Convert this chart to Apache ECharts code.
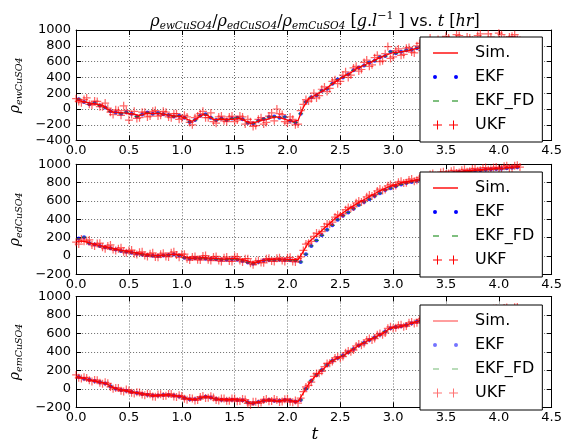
<!DOCTYPE html>
<html lang="en">
<head>
    <meta charset="UTF-8">
    <title>rho CuSO4 estimates</title>
    <style>
        html, body { margin: 0; padding: 0; background: #fff; }
        #main { width: 565px; height: 446px; }
    </style>
</head>
<body>
    <div id="main"></div>
    <script src="https://cdn.jsdelivr.net/npm/echarts@6/dist/echarts.min.js"></script>
    <script>
        // time grid [hr]
        var tGrid = [0.00, 0.05, 0.10, 0.15, 0.20, 0.25, 0.30, 0.35, 0.40, 0.45,
            0.50, 0.55, 0.60, 0.65, 0.70, 0.75, 0.80, 0.85, 0.90, 0.95,
            1.00, 1.05, 1.10, 1.15, 1.20, 1.25, 1.30, 1.35, 1.40, 1.45,
            1.50, 1.55, 1.60, 1.65, 1.70, 1.75, 1.80, 1.85, 1.90, 1.95,
            2.00, 2.05, 2.10, 2.15, 2.20, 2.25, 2.30, 2.35, 2.40, 2.45,
            2.50, 2.55, 2.60, 2.65, 2.70, 2.75, 2.80, 2.85, 2.90, 2.95,
            3.00, 3.05, 3.10, 3.15, 3.20, 3.25, 3.30, 3.35, 3.40, 3.45,
            3.50, 3.55, 3.60, 3.65, 3.70, 3.75, 3.80, 3.85, 3.90, 3.95,
            4.00, 4.05, 4.10, 4.15, 4.20];
        // in-between sample times
        var tMid = [0.025, 0.075, 0.125, 0.175, 0.225, 0.275, 0.325, 0.375, 0.425, 0.475,
            0.525, 0.575, 0.625, 0.675, 0.725, 0.775, 0.825, 0.875, 0.925, 0.975,
            1.025, 1.075, 1.125, 1.175, 1.225, 1.275, 1.325, 1.375, 1.425, 1.475,
            1.525, 1.575, 1.625, 1.675, 1.725, 1.775, 1.825, 1.875, 1.925, 1.975,
            2.025, 2.075, 2.125, 2.175, 2.225, 2.275, 2.325, 2.375, 2.425, 2.475,
            2.525, 2.575, 2.625, 2.675, 2.725, 2.775, 2.825, 2.875, 2.925, 2.975,
            3.025, 3.075, 3.125, 3.175, 3.225, 3.275, 3.325, 3.375, 3.425, 3.475,
            3.525, 3.575, 3.625, 3.675, 3.725, 3.775, 3.825, 3.875, 3.925, 3.975,
            4.025, 4.075, 4.125, 4.175];

        // rho_ewCuSO4
        var simEw = [115, 100, 85, 70, 60, 50, -5, -40, -42, -50,
            -55, -65, -85, -60, -55, -55, -58, -70, -82, -90,
            -98, -130, -155, -115, -70, -85, -135, -130, -130, -132,
            -128, -115, -150, -182, -165, -145, -135, -112, -100, -120,
            -140, -158, -145, 20, 130, 165, 205, 240, 295, 340,
            385, 425, 460, 510, 540, 570, 600, 635, 665, 690,
            715, 720, 730, 740, 760, 775, 790, 800, 810, 818,
            830, 840, 848, 855, 860, 866, 870, 875, 878, 882,
            886, 888, 890, 892, 894];
        var ekfEw = [125, 90, 60, 75, 45, 20, -30, -45, -60, -40,
            -60, -95, -70, -45, -60, -50, -65, -75, -95, -85,
            -110, -165, -140, -85, -65, -110, -140, -120, -140, -120,
            -110, -130, -175, -185, -150, -125, -100, -95, -110, -100,
            -150, -170, -60, 90, 150, 175, 230, 255, 320, 375,
            400, 440, 490, 525, 550, 590, 610, 655, 670, 725,
            705, 725, 745, 750, 770, 785, 795, 810, 812, 830,
            835, 845, 852, 855, 865, 866, 874, 876, 884, 882,
            890, 888, 894, 892];
        var ukfEw = [130, 80, 140, 50, 95, 30, 10, -70, -20, 40,
            -140, -30, -110, -40, -90, -20, -80, -40, -110, -60,
            -120, -100, -200, -90, -30, -110, -160, -100, -150, -100,
            -160, -90, -190, -160, -210, -110, -170, -50, 0, -70,
            -180, -130, -190, 60, 100, 200, 170, 280, 260, 370,
            350, 470, 430, 540, 500, 620, 560, 680, 610, 790,
            660, 760, 690, 780, 710, 830, 750, 900, 780, 860,
            920, 800, 940, 830, 910, 870, 930, 820, 950, 860,
            960, 880, 910, 940, 870];
        var ukfEwMid = [95, 120, 60, 100, 30, 75, -40, -10, -80, -20,
            -70, -120, -40, -100, -30, -90, -30, -100, -60, -130,
            -80, -170, -110, -60, -110, -50, -180, -90, -160, -90,
            -140, -100, -130, -220, -130, -190, -90, -150, -60, -160,
            -100, -200, -20, 120, 130, 140, 250, 220, 350, 320,
            430, 400, 520, 480, 590, 540, 650, 600, 700, 640,
            740, 680, 770, 720, 800, 740, 840, 770, 880, 800,
            900, 820, 930, 850, 900, 840, 950, 860, 910, 850,
            940, 870, 920, 880];

        // rho_edCuSO4
        var simEd = [160, 165, 150, 135, 120, 108, 95, 82, 68, 58,
            48, 38, 28, 20, 12, 6, 8, 12, 18, 20,
            8, -15, -25, -20, -18, -22, -25, -30, -35, -30,
            -25, -35, -45, -65, -75, -50, -42, -38, -35, -35,
            -38, -40, -40, 50, 150, 200, 250, 305, 355, 410,
            450, 490, 530, 565, 600, 630, 665, 695, 725, 750,
            770, 790, 805, 815, 825, 840, 860, 875, 885, 895,
            905, 910, 918, 922, 930, 935, 940, 945, 950, 952,
            958, 962, 968, 972, 975];
        var ekfEd = [190, 205, 140, 125, 110, 95, 85, 70, 55, 45,
            35, 25, 15, 8, 2, 0, 5, 10, 15, 5,
            -20, -30, -25, -28, -30, -32, -35, -40, -40, -35,
            -40, -55, -70, -85, -65, -50, -45, -45, -42, -45,
            -48, -50, -65, 20, 110, 170, 225, 285, 335, 395,
            440, 475, 515, 555, 590, 620, 655, 685, 720, 740,
            760, 780, 795, 808, 820, 838, 855, 872, 880, 892,
            900, 905, 915, 918, 925, 930, 935, 940, 945, 948,
            952, 958, 962, 968];
        var ukfEd = [150, 185, 165, 120, 135, 95, 110, 70, 80, 45,
            60, 25, 40, 5, 25, -10, 20, -5, 35, 10,
            20, -30, -10, -40, 0, -40, -10, -50, -20, -55,
            -5, -50, -30, -80, -60, -70, -30, -55, -25, -50,
            -20, -60, -30, 60, 140, 215, 245, 320, 345, 425,
            440, 505, 520, 580, 590, 645, 655, 710, 715, 765,
            760, 805, 795, 830, 815, 855, 850, 890, 875, 910,
            895, 925, 905, 935, 920, 950, 930, 960, 940, 965,
            950, 978, 960, 985, 970];
        var ukfEdMid = [130, 160, 175, 110, 140, 80, 120, 60, 90, 35,
            65, 15, 45, -5, 35, -15, 30, -10, 45, -15,
            20, -45, -5, -45, 5, -50, -5, -60, -10, -60,
            -10, -65, -30, -95, -50, -75, -25, -60, -20, -60,
            -15, -65, -10, 130, 160, 250, 265, 350, 370, 450,
            460, 530, 535, 600, 605, 665, 670, 730, 725, 780,
            770, 815, 800, 840, 825, 870, 860, 900, 880, 920,
            900, 935, 910, 945, 925, 955, 935, 965, 945, 970,
            950, 985, 960, 990];

        // rho_emCuSO4
        var simEm = [135, 120, 104, 90, 79, 66, 48, 12, -5, -15,
            -29, -38, -50, -58, -68, -74, -70, -64, -68, -76,
            -88, -105, -118, -108, -90, -84, -105, -115, -118, -117,
            -118, -120, -128, -160, -150, -136, -122, -120, -135, -125,
            -120, -132, -140, -45, 50, 120, 180, 225, 290, 320,
            345, 375, 415, 450, 485, 515, 543, 570, 598, 640,
            668, 672, 685, 700, 720, 738, 755, 770, 780, 790,
            800, 808, 815, 822, 828, 835, 840, 845, 850, 855,
            858, 862, 866, 870, 872];
        var ekfEm = [128, 110, 98, 84, 72, 58, 28, 2, -12, -22,
            -34, -45, -55, -64, -72, -72, -66, -66, -72, -83,
            -98, -112, -114, -100, -86, -95, -110, -117, -118, -118,
            -120, -124, -145, -156, -142, -130, -120, -128, -130, -122,
            -126, -136, -120, 0, 88, 150, 205, 258, 305, 333,
            360, 395, 432, 468, 500, 530, 557, 585, 620, 655,
            670, 678, 692, 710, 730, 746, 762, 775, 785, 795,
            804, 812, 818, 825, 832, 838, 842, 848, 852, 856,
            860, 864, 868, 871];
        var ukfEm = [150, 112, 118, 80, 92, 55, 60, 0, 8, -28,
            -18, -50, -40, -70, -58, -85, -60, -76, -56, -88,
            -78, -118, -106, -120, -78, -96, -94, -127, -106, -130,
            -106, -132, -116, -175, -140, -148, -110, -132, -122, -138,
            -108, -145, -155, -30, 38, 135, 168, 240, 278, 335,
            332, 390, 402, 465, 472, 530, 530, 585, 585, 655,
            655, 688, 672, 715, 708, 752, 742, 785, 768, 805,
            788, 822, 803, 836, 816, 850, 828, 860, 838, 868,
            846, 876, 854, 884, 860];
        var ukfEmMid = [120, 125, 92, 96, 66, 70, 20, 10, -20, -8,
            -42, -36, -62, -52, -82, -62, -78, -55, -84, -70,
            -108, -100, -126, -88, -100, -80, -122, -104, -130, -104,
            -134, -110, -158, -140, -158, -120, -135, -110, -142, -112,
            -140, -125, -100, 20, 72, 165, 190, 275, 295, 348,
            350, 410, 420, 485, 490, 545, 545, 600, 605, 672,
            662, 695, 680, 725, 715, 762, 752, 792, 772, 810,
            792, 826, 806, 840, 820, 852, 830, 864, 840, 870,
            848, 880, 856, 886];

        var xTicks = [0, 4.5, 0.5];
        var yRanges = [[-400, 1000], [-200, 1000], [-200, 1000]];
        var seriesNames = ['Sim.', 'EKF', 'EKF_FD', 'UKF'];
        var seriesColors = { 'Sim.': '#ff0000', 'EKF': '#0000ff', 'EKF_FD': '#008000', 'UKF': '#ff0000' };

        function pairs(ts, vs) {
            var out = [];
            for (var i = 0; i < vs.length && i < ts.length; i++) out.push([ts[i], vs[i]]);
            return out;
        }

        var plots = [
            { sub: 'ewCuSO4', sim: simEw, ekf: ekfEw, ukf: ukfEw, ukfMid: ukfEwMid, top: 30, height: 110.6, legendTop: 37, alpha: 1 },
            { sub: 'edCuSO4', sim: simEd, ekf: ekfEd, ukf: ukfEd, ukfMid: ukfEdMid, top: 164.3, height: 110, legendTop: 172, alpha: 1 },
            { sub: 'emCuSO4', sim: simEm, ekf: ekfEm, ukf: ukfEm, ukfMid: ukfEmMid, top: 296.5, height: 110.8, legendTop: 305, alpha: 0.55 }
        ];

        var mathFont = 'DejaVu Serif';
        var sansFont = 'DejaVu Sans';
        var crossPath = 'path://M3.8,0 L5.2,0 L5.2,3.8 L9,3.8 L9,5.2 L5.2,5.2 L5.2,9 L3.8,9 L3.8,5.2 L0,5.2 L0,3.8 L3.8,3.8 Z';

        // legend icons: 37x9 box, marks in the left 25px (text is put 5px after the box)
        var box = 'M0,0 M37,9 ';
        var icons = {
            'Sim.': 'path://' + box + 'M0,3.8 L25,3.8 L25,5.2 L0,5.2 Z',
            'EKF': 'path://' + box + 'M0,4.5 A2,2 0 1,0 4,4.5 A2,2 0 1,0 0,4.5 Z M21,4.5 A2,2 0 1,0 25,4.5 A2,2 0 1,0 21,4.5 Z',
            'EKF_FD': 'path://' + box + 'M0,4 L6,4 L6,5 L0,5 Z M19,4 L25,4 L25,5 L19,5 Z',
            'UKF': 'path://' + box + 'M4,0 L5,0 L5,4 L9,4 L9,5 L5,5 L5,9 L4,9 L4,5 L0,5 L0,4 L4,4 Z ' +
                'M20,0 L21,0 L21,4 L25,4 L25,5 L21,5 L21,9 L20,9 L20,5 L16,5 L16,4 L20,4 Z'
        };

        function minusFmt(v) {
            return v < 0 ? '\u2212' + Math.abs(v) : String(v);
        }

        var grids = [], xAxes = [], yAxes = [], series = [], legends = [];

        plots.forEach(function (p, i) {
            grids.push({ left: 66.4, right: 10, top: p.top, height: p.height });
            xAxes.push({
                type: 'value', gridIndex: i, position: 'bottom',
                min: xTicks[0], max: xTicks[1], interval: xTicks[2],
                axisLine: { onZero: false, lineStyle: { color: '#000', width: 1 } },
                axisTick: { inside: true, length: 5, lineStyle: { color: '#000' } },
                axisLabel: { color: '#000', fontSize: 13, fontFamily: sansFont, margin: 4,
                    formatter: function (v) { return v.toFixed(1); } },
                splitLine: { show: true, lineStyle: { color: '#444', width: 0.8, type: [1, 2] } }
            });
            xAxes.push({
                type: 'value', gridIndex: i, position: 'top',
                min: xTicks[0], max: xTicks[1], interval: xTicks[2],
                axisLine: { onZero: false, lineStyle: { color: '#000', width: 1 } },
                axisTick: { inside: true, length: 5, lineStyle: { color: '#000' } },
                axisLabel: { show: false }, splitLine: { show: false }
            });
            yAxes.push({
                type: 'value', gridIndex: i, position: 'left',
                min: yRanges[i][0], max: yRanges[i][1], interval: 200,
                name: '{r|ρ}{s|' + p.sub + '}',
                nameLocation: 'middle', nameGap: 45, nameRotate: 90,
                nameTextStyle: {
                    rich: {
                        r: { fontFamily: mathFont, fontStyle: 'italic', fontSize: 14, color: '#000' },
                        s: { fontFamily: mathFont, fontStyle: 'italic', fontSize: 9.5, color: '#000', padding: [9, 0, 0, 0] }
                    }
                },
                axisLine: { show: true, onZero: false, lineStyle: { color: '#000', width: 1 } },
                axisTick: { show: true, inside: true, length: 5, lineStyle: { color: '#000' } },
                axisLabel: { color: '#000', fontSize: 13, fontFamily: sansFont, margin: 5, formatter: minusFmt },
                splitLine: { show: true, lineStyle: { color: '#444', width: 0.8, type: [1, 2] } }
            });
            yAxes.push({
                type: 'value', gridIndex: i, position: 'right',
                min: yRanges[i][0], max: yRanges[i][1], interval: 200,
                axisLine: { show: true, onZero: false, lineStyle: { color: '#000', width: 1 } },
                axisTick: { show: true, inside: true, length: 5, lineStyle: { color: '#000' } },
                axisLabel: { show: false }, splitLine: { show: false }
            });

            var xi = i * 2, yi = i * 2;
            series.push({
                name: 'Sim.', type: 'line', xAxisIndex: xi, yAxisIndex: yi,
                data: pairs(tGrid, p.sim), showSymbol: false, symbol: 'none',
                legendHoverLink: false, emphasis: { disabled: true },
                lineStyle: { color: '#ff0000', width: 1.3 }, itemStyle: { color: '#ff0000' }
            });
            series.push({
                name: 'EKF', type: 'scatter', xAxisIndex: xi, yAxisIndex: yi,
                data: pairs(tMid, p.ekf), symbol: 'circle', symbolSize: 4,
                legendHoverLink: false, emphasis: { disabled: true },
                itemStyle: { color: '#0000ff' }
            });
            series.push({
                // EKF_FD estimate coincides with EKF
                name: 'EKF_FD', type: 'scatter', xAxisIndex: xi, yAxisIndex: yi,
                data: pairs(tMid, p.ekf), symbol: 'rect', symbolSize: [5, 1],
                legendHoverLink: false, emphasis: { disabled: true },
                itemStyle: { color: '#008000', opacity: 0.7 }
            });
            series.push({
                name: 'UKF', type: 'scatter', xAxisIndex: xi, yAxisIndex: yi,
                data: pairs(tGrid, p.ukf).concat(pairs(tMid, p.ukfMid)),
                symbol: crossPath, symbolSize: 8,
                legendHoverLink: false, emphasis: { disabled: true },
                itemStyle: { color: '#ff0000', opacity: 0.6 }
            });

            legends.push({
                left: 420, top: p.legendTop, orient: 'vertical',
                itemWidth: 37, itemHeight: 9, itemGap: 8,
                padding: [8, 8, 9, 13],
                backgroundColor: '#fff', borderColor: '#000', borderWidth: 1, borderRadius: 0,
                selectedMode: false,
                textStyle: { fontFamily: sansFont, fontSize: 16, color: '#000', lineHeight: 16 },
                itemStyle: { borderWidth: 0 },
                data: seriesNames.map(function (n) {
                    return {
                        name: n, icon: icons[n],
                        itemStyle: { color: seriesColors[n], opacity: p.alpha, borderWidth: 0 }
                    };
                })
            });
        });

        var titleRich = {
            r: { fontFamily: mathFont, fontStyle: 'italic', fontWeight: 'normal', fontSize: 16, color: '#000' },
            s: { fontFamily: mathFont, fontStyle: 'italic', fontWeight: 'normal', fontSize: 10.5, color: '#000', padding: [9, 0, 0, 0] },
            n: { fontFamily: mathFont, fontWeight: 'normal', fontSize: 16, color: '#000' },
            m: { fontFamily: mathFont, fontStyle: 'italic', fontWeight: 'normal', fontSize: 16, color: '#000' },
            p: { fontFamily: mathFont, fontWeight: 'normal', fontSize: 11, color: '#000', padding: [0, 0, 11, 0] },
            v: { fontFamily: sansFont, fontWeight: 'normal', fontSize: 16, color: '#000' }
        };

        var option = {
            animation: false,
            backgroundColor: '#fff',
            title: [{
                text: '{r|ρ}{s|ewCuSO4}{n|/}{r|ρ}{s|edCuSO4}{n|/}{r|ρ}{s|emCuSO4}{n| [}{m|g.l}{p|\u22121}{n| ] }{v|vs. }{m|t}{n| [}{m|hr}{n|]}',
                left: 310, top: 6, textAlign: 'center',
                textStyle: { fontWeight: 'normal', rich: titleRich }
            }, {
                text: 't',
                left: 310, top: 421, textAlign: 'center',
                textStyle: { fontFamily: mathFont, fontStyle: 'italic', fontSize: 17, fontWeight: 'normal', color: '#000' }
            }],
            legend: legends,
            grid: grids,
            xAxis: xAxes,
            yAxis: yAxes,
            series: series
        };

        var myChart = echarts.init(document.getElementById('main'));
        myChart.setOption(option);
    </script>
</body>
</html>
